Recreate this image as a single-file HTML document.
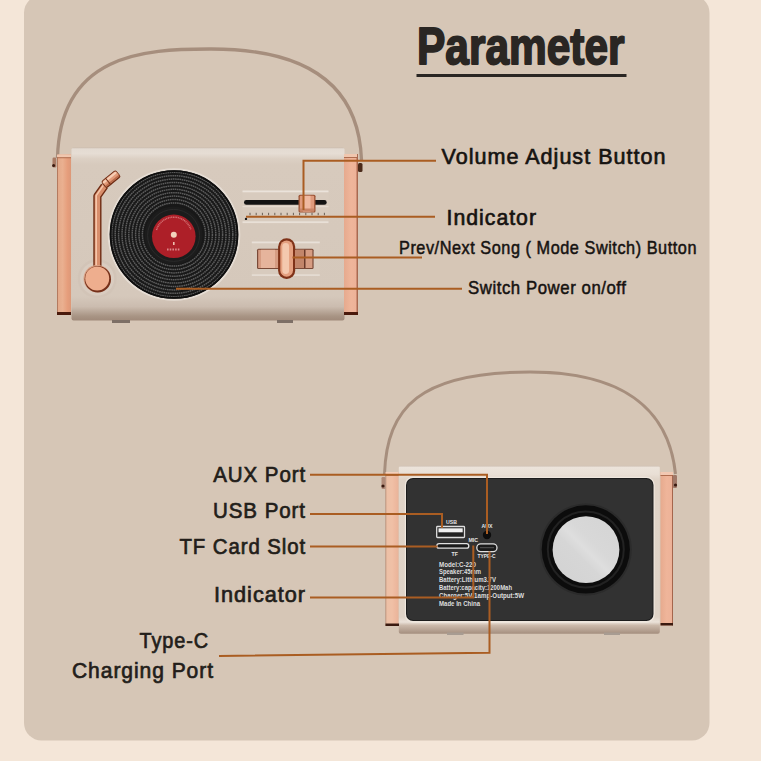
<!DOCTYPE html>
<html><head><meta charset="utf-8">
<style>
html,body{margin:0;padding:0;background:#f4e6d8;width:761px;height:761px;overflow:hidden}
svg{position:absolute;left:0;top:0;display:block}
text{font-family:"Liberation Sans",sans-serif}
</style></head>
<body>
<svg width="761" height="761" viewBox="0 0 761 761">
<defs>
  <linearGradient id="copperV" x1="0" y1="0" x2="1" y2="0">
    <stop offset="0" stop-color="#9a6048"/>
    <stop offset="0.1" stop-color="#e4aa8a"/>
    <stop offset="0.4" stop-color="#eab090"/>
    <stop offset="0.75" stop-color="#e69e7c"/>
    <stop offset="1" stop-color="#dc9878"/>
  </linearGradient>
  <linearGradient id="copperL" x1="0" y1="0" x2="1" y2="0">
    <stop offset="0" stop-color="#b08068"/>
    <stop offset="0.1" stop-color="#ecc0a6"/>
    <stop offset="0.5" stop-color="#f0c0a6"/>
    <stop offset="0.8" stop-color="#edb89e"/>
    <stop offset="1" stop-color="#e8b49a"/>
  </linearGradient>
  <linearGradient id="copperR" x1="0" y1="0" x2="1" y2="0">
    <stop offset="0" stop-color="#e6aa8e"/>
    <stop offset="0.5" stop-color="#efb59a"/>
    <stop offset="0.88" stop-color="#edb298"/>
    <stop offset="0.92" stop-color="#8a4028"/>
    <stop offset="1" stop-color="#c08a70"/>
  </linearGradient>
  <linearGradient id="bodyG" x1="0" y1="0" x2="0" y2="1">
    <stop offset="0" stop-color="#cbbdb0"/>
    <stop offset="0.008" stop-color="#e4dbd2"/>
    <stop offset="0.035" stop-color="#e6ddd4"/>
    <stop offset="0.065" stop-color="#dcd0c4"/>
    <stop offset="0.1" stop-color="#d7cabd"/>
    <stop offset="0.86" stop-color="#d5c8bb"/>
    <stop offset="0.92" stop-color="#cbbcaf"/>
    <stop offset="0.975" stop-color="#a89484"/>
    <stop offset="1" stop-color="#a08a7a"/>
  </linearGradient>
  <linearGradient id="body2G" x1="0" y1="0" x2="0" y2="1">
    <stop offset="0" stop-color="#d0c2b5"/>
    <stop offset="0.01" stop-color="#ece3da"/>
    <stop offset="0.05" stop-color="#e9dfd5"/>
    <stop offset="0.08" stop-color="#e0d4c8"/>
    <stop offset="0.9" stop-color="#dfd3c7"/>
    <stop offset="0.93" stop-color="#ebe2d9"/>
    <stop offset="0.95" stop-color="#cbb9aa"/>
    <stop offset="1" stop-color="#a48e7e"/>
  </linearGradient>
  <linearGradient id="discG" x1="1" y1="0" x2="0" y2="1">
    <stop offset="0" stop-color="#d4d4d4"/>
    <stop offset="0.4" stop-color="#d8d8d8"/>
    <stop offset="0.5" stop-color="#dedede"/>
    <stop offset="0.6" stop-color="#d6d6d6"/>
    <stop offset="1" stop-color="#d2d2d2"/>
  </linearGradient>
</defs>
<!-- panel -->
<rect x="24" y="-4.7" width="685.5" height="745.2" rx="17.5" fill="#d6c6b6"/>

<!-- TOPDEVICE -->
<path d="M57.5,158 C60,54 144,49 209.5,49 C316,48.5 359,92 361.5,160" fill="none" stroke="#a68e7d" stroke-width="3.3"/>
<rect x="71.5" y="147.5" width="273" height="173" rx="2" fill="url(#bodyG)"/>
<rect x="112" y="320" width="18" height="3" fill="#7d6f66"/>
<rect x="277" y="320" width="16" height="3" fill="#7d6f66"/>
<!-- brackets -->
<rect x="57" y="154.5" width="14" height="160.5" fill="url(#copperV)"/>
<rect x="57" y="154.5" width="14" height="3" fill="#f0c6ae"/>
<rect x="57" y="157.3" width="14" height="0.9" fill="#a86648"/>
<rect x="57" y="312" width="14" height="3" fill="#4a1a0c"/>
<rect x="52.5" y="157.5" width="3.8" height="10" rx="1.2" fill="#a87a64"/>
<circle cx="53.6" cy="165.5" r="1.5" fill="#3a1a10"/>
<rect x="344" y="154" width="14" height="161" fill="url(#copperR)"/>
<rect x="344" y="154" width="13" height="3" fill="#f0c6ae"/>
<rect x="344" y="157" width="13" height="0.9" fill="#a86648"/>
<rect x="344" y="312" width="14" height="3" fill="#4a1a0c"/>
<rect x="358" y="163" width="4.5" height="9" rx="1.5" fill="#4a2a1a"/>

<!-- record -->
<circle cx="174" cy="234.5" r="66.3" fill="#e6ddd4"/>
<circle cx="174" cy="234.5" r="64.3" fill="#181818"/>
<g fill="none" stroke="#5c5c5c" stroke-width="1.5" stroke-dasharray="1.6 0.6">
  <circle cx="174" cy="234.5" r="62.2"/>
  <circle cx="174" cy="234.5" r="58.8"/>
  <circle cx="174" cy="234.5" r="55.4"/>
  <circle cx="174" cy="234.5" r="52"/>
  <circle cx="174" cy="234.5" r="48.6"/>
  <circle cx="174" cy="234.5" r="45.2"/>
  <circle cx="174" cy="234.5" r="41.8"/>
  <circle cx="174" cy="234.5" r="38.4"/>
  <circle cx="174" cy="234.5" r="35"/>
  <circle cx="174" cy="234.5" r="31.6"/>
</g>
<circle cx="174" cy="234.5" r="63.4" fill="none" stroke="#0e0e0e" stroke-width="1.8"/>
<circle cx="173.6" cy="235.4" r="29" fill="#1c1c1c"/>
<circle cx="173.6" cy="235.4" r="26" fill="none" stroke="#2a2a2a" stroke-width="1"/>
<circle cx="173.8" cy="236.3" r="21.8" fill="#ad1f28"/>
<circle cx="173.8" cy="234.7" r="3" fill="#f3d2bc"/>
<path d="M156.5,230 A18,18 0 0 1 191,230" fill="none" stroke="#e59a9a" stroke-width="1.5" stroke-dasharray="1 0.7" opacity="0.7"/>
<path d="M167,249.5 h13.5" stroke="#e8a0a0" stroke-width="1.8" stroke-dasharray="1.6 1.1" opacity="0.8"/>
<path d="M173.8,242 v3" stroke="#eec0b0" stroke-width="1.6"/>

<!-- tonearm -->
<circle cx="97.2" cy="278.6" r="19.5" fill="#d2c4b7"/>
<circle cx="97.2" cy="278.6" r="17" fill="#d9ccc0"/>
<path d="M97.4,270 L97.4,196 L104.5,186" fill="none" stroke="#6e2c14" stroke-width="8.2" stroke-linejoin="round"/>
<path d="M97.4,270 L97.4,196 L104.5,186" fill="none" stroke="#d88e6c" stroke-width="5.4" stroke-linejoin="round"/>
<path d="M96.2,270 L96.2,195.6 L103.3,185.4" fill="none" stroke="#f6c6aa" stroke-width="1.6" stroke-linejoin="round"/>
<g transform="translate(111,179.2) rotate(-39)">
  <rect x="-9.5" y="-4.5" width="19" height="9" rx="2.2" fill="#6e2c14"/>
  <rect x="-8.6" y="-3.6" width="17.4" height="6.6" rx="1.6" fill="#e29a78"/>
  <rect x="-8.6" y="-3.2" width="17" height="2.2" rx="1" fill="#f6cdb4"/>
  <rect x="-8.6" y="1.4" width="17.4" height="1.6" fill="#b86a4a"/>
  <rect x="-4.2" y="-4.5" width="1.1" height="9" fill="#6e2c14"/>
</g>
<circle cx="97.2" cy="278.6" r="13.7" fill="#d9a084"/>
<circle cx="97.8" cy="279.2" r="13.2" fill="#74301a"/>
<circle cx="97.2" cy="278.6" r="12" fill="#eeae8e"/>

<!-- slider panel -->
<rect x="242.5" y="190.5" width="86" height="32.5" rx="2" fill="#d8cbbe"/>
<rect x="242.5" y="190.5" width="86" height="1.8" fill="#ebe3db"/>
<rect x="242.5" y="206" width="86" height="1.2" fill="#e4dad0"/>
<rect x="242.5" y="221.3" width="86" height="1.8" fill="#e9e0d7"/>
<rect x="244" y="200.1" width="82.7" height="4.6" rx="2.3" fill="#131313"/>
<g stroke="#5e524a" stroke-width="0.9">
  <path d="M250,212.8 v2.4 M256.2,212.8 v2.4 M262.4,212.8 v2.4 M268.6,212.8 v2.4 M274.8,212.8 v2.4 M281,212.8 v2.4 M287.2,212.8 v2.4 M293.4,212.8 v2.4 M299.6,212.8 v2.4 M305.8,212.8 v2.4 M312,212.8 v2.4 M318.2,212.8 v2.4 M324.4,212.8 v2.4"/>
</g>
<circle cx="246" cy="218.9" r="1.2" fill="#1a1a1a"/>
<rect x="298.5" y="194.8" width="17" height="17.8" rx="1.5" fill="#9a5234"/>
<rect x="299.8" y="195.8" width="14.4" height="15.8" rx="1" fill="#df9a7c"/>
<rect x="303" y="195.8" width="7.5" height="15.8" fill="#efb9a0"/>
<rect x="299.8" y="208.5" width="14.4" height="3" fill="#c98466"/>

<!-- switch -->
<rect x="251.8" y="241.5" width="68" height="34.5" rx="3" fill="#d8cbbe"/>
<rect x="251.8" y="241.5" width="68" height="1.8" fill="#e8e0d8"/>
<rect x="251.8" y="274.2" width="68" height="1.8" fill="#e4dbd2"/>
<rect x="257" y="248.7" width="56.6" height="20.4" rx="1.5" fill="#7a4a38"/>
<rect x="258.2" y="249.8" width="54.2" height="18.2" fill="#d69c82"/>
<rect x="261" y="249.8" width="14" height="18.2" fill="#e6b49c"/>
<rect x="296" y="249.8" width="8" height="18.2" fill="#c2856a"/>
<rect x="304" y="249.8" width="1.5" height="18.2" fill="#6b3a2a"/>
<rect x="278.1" y="238.2" width="17.1" height="40.8" rx="8.5" fill="#7f3218"/>
<rect x="280.3" y="240.5" width="12.7" height="36.2" rx="6.3" fill="#e5a080"/>
<rect x="282.3" y="243" width="6.8" height="31" rx="3.4" fill="#f4c8ae"/>
<!-- /TOPDEVICE -->

<!-- BOTTOMDEVICE -->
<path d="M384.5,474 C387,407 420,372 530,372 C655,372 672,440 675.5,474" fill="none" stroke="#a68e7d" stroke-width="3"/>
<rect x="398.8" y="465.8" width="261" height="168" rx="2" fill="url(#body2G)"/>
<rect x="447" y="632.5" width="16.5" height="2.5" fill="#a89c92"/>
<rect x="604" y="632.5" width="16" height="2.5" fill="#a89c92"/>
<rect x="385.5" y="472" width="13" height="154" fill="url(#copperL)"/>
<rect x="385.5" y="623.5" width="13.5" height="2.5" fill="#3a1a10"/>
<rect x="381.5" y="477" width="4" height="12" rx="1.2" fill="#b08a78"/>
<circle cx="383" cy="486" r="1.6" fill="#3a1a10"/>
<rect x="385.5" y="472" width="13" height="3" fill="#f4d0bc"/>
<rect x="385.5" y="475" width="13" height="0.9" fill="#b07458"/>
<rect x="660.5" y="472" width="12.5" height="153.5" fill="url(#copperR)"/>
<rect x="660.5" y="623" width="12.5" height="2.5" fill="#3a1a10"/>
<rect x="672.8" y="475" width="4.2" height="13" rx="1.2" fill="#a07868"/>
<circle cx="675.5" cy="485" r="1.6" fill="#3a1a10"/>
<rect x="660.5" y="472" width="12.5" height="3" fill="#f2c8b2"/>
<rect x="660.5" y="475" width="12.5" height="0.9" fill="#a86648"/>
<rect x="404.8" y="476.8" width="249.9" height="145.9" rx="8" fill="#efe7de"/>
<rect x="406" y="478" width="247.5" height="143" rx="7" fill="#1c1c1c"/>
<rect x="407" y="479" width="245.5" height="141" rx="6.2" fill="#323232"/>
<!-- speaker -->
<circle cx="585.8" cy="549.4" r="46" fill="#2b2b2b"/>
<circle cx="585.8" cy="549.4" r="44.1" fill="#0c0c0c"/>
<circle cx="585.8" cy="549.4" r="38" fill="none" stroke="#222" stroke-width="2"/>
<circle cx="586" cy="549.7" r="33.4" fill="url(#discG)"/>
<!-- ports -->
<rect x="436.7" y="526.5" width="27.8" height="11" rx="0.8" fill="#222" stroke="#dedede" stroke-width="1.3"/>
<rect x="438.5" y="528.3" width="24.2" height="4" fill="#f0f0f0"/>
<circle cx="487" cy="535" r="4.2" fill="#0c0c0c"/>
<rect x="436.8" y="543.6" width="32" height="4.6" rx="2.3" fill="#1a1a1a" stroke="#e0e0e0" stroke-width="1.3"/>
<rect x="476.8" y="543.8" width="20.2" height="7.8" rx="3.9" fill="#1a1a1a" stroke="#e0e0e0" stroke-width="1.3"/>
<rect x="480" y="547.2" width="14" height="1" fill="#555"/>
<g fill="#e6e6e6" font-size="5.2" font-weight="bold">
  <text x="446" y="524">USB</text>
  <text x="481.5" y="527.5">AUX</text>
  <text x="468.5" y="541.5">MIC</text>
  <text x="451.5" y="555.5">TF</text>
  <text x="477.5" y="557.8" textLength="18" lengthAdjust="spacingAndGlyphs">TYPE-C</text>
</g>
<g fill="#dedede" font-size="7.6" font-weight="bold">
  <text x="439" y="566.5" textLength="37" lengthAdjust="spacingAndGlyphs">Model:C-220</text>
  <text x="439" y="574.4" textLength="42" lengthAdjust="spacingAndGlyphs">Speaker:45mm</text>
  <text x="439" y="582.3" textLength="57" lengthAdjust="spacingAndGlyphs">Battery:Lithium3.7V</text>
  <text x="439" y="590.2" textLength="73" lengthAdjust="spacingAndGlyphs">Battery:capacity:1200Mah</text>
  <text x="439" y="598.1" textLength="85" lengthAdjust="spacingAndGlyphs">Charger:5V-1amp-Output:5W</text>
  <text x="439" y="606" textLength="41" lengthAdjust="spacingAndGlyphs">Made In China</text>
</g>
<!-- /BOTTOMDEVICE -->

<!-- LINES -->
<g fill="none" stroke="#aa5d22" stroke-width="2">
  <path d="M303.5,210 V160.8 H436"/>
  <path d="M246,216.8 H435"/>
  <path d="M292.5,257.5 H422"/>
  <path d="M176,288.8 H462"/>
  <path d="M310,474.8 H487 V534"/>
  <path d="M310,514 H442 V528"/>
  <path d="M310,546.6 H437.5"/>
  <path d="M310,597.6 H473.3 V545.5"/>
  <path d="M219,656 L489.5,652.7 V551.5"/>
</g>

<!-- TEXT -->
<text x="417" y="63.8" font-size="51.5" font-weight="bold" fill="#2a2623" textLength="207.5" lengthAdjust="spacingAndGlyphs" stroke="#2a2623" stroke-width="1.9" stroke-linejoin="round">Parameter</text>
<rect x="416.5" y="74" width="210" height="3" fill="#2a2623"/>
<g fill="#161311" font-size="21.2" stroke="#161311" stroke-width="0.65" letter-spacing="1">
  <text x="441.5" y="163.6" textLength="225" lengthAdjust="spacingAndGlyphs">Volume Adjust Button</text>
  <text x="446.5" y="224.8" textLength="90.5" lengthAdjust="spacingAndGlyphs">Indicator</text>
</g>
<g fill="#161311" font-size="17.8" stroke="#161311" stroke-width="0.5" letter-spacing="0.6">
  <text x="399" y="254.4" textLength="298" lengthAdjust="spacingAndGlyphs">Prev/Next Song ( Mode Switch) Button</text>
  <text x="468" y="293.9" textLength="158.5" lengthAdjust="spacingAndGlyphs">Switch Power on/off</text>
</g>
<g fill="#231e1a" font-size="22" stroke="#231e1a" stroke-width="0.7" letter-spacing="1">
  <text x="213.2" y="481.6" textLength="93" lengthAdjust="spacingAndGlyphs">AUX Port</text>
  <text x="213" y="517.8" textLength="93" lengthAdjust="spacingAndGlyphs">USB Port</text>
  <text x="179.5" y="553.8" textLength="126.5" lengthAdjust="spacingAndGlyphs">TF Card Slot</text>
  <text x="214" y="602" textLength="92" lengthAdjust="spacingAndGlyphs">Indicator</text>
  <text x="139.5" y="648.4" textLength="69.5" lengthAdjust="spacingAndGlyphs">Type-C</text>
  <text x="72" y="678.2" textLength="142" lengthAdjust="spacingAndGlyphs">Charging Port</text>
</g>
</svg>
</body></html>
